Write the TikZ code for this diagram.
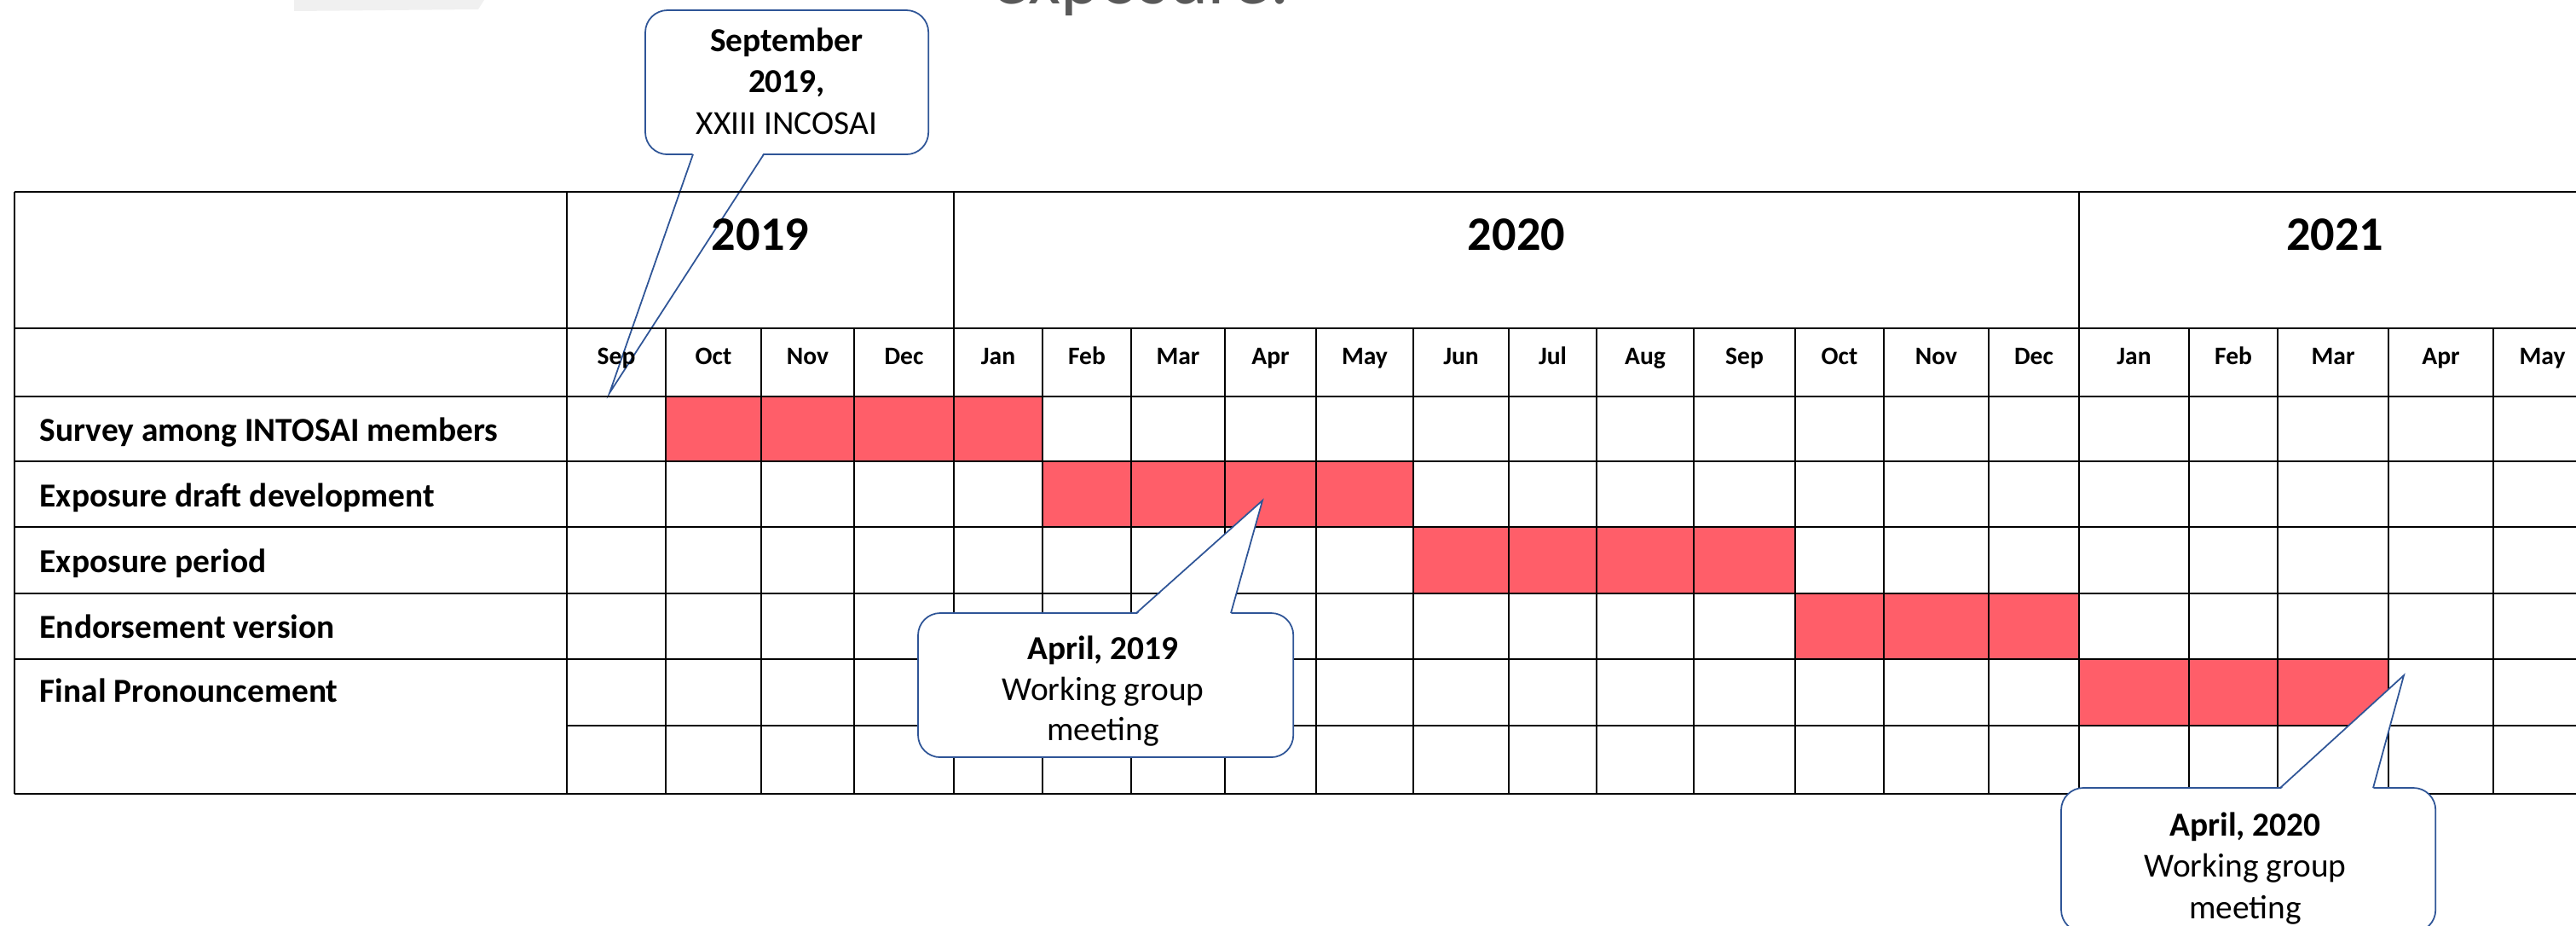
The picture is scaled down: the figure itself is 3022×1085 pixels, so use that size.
\documentclass[tikz,border=0pt]{standalone}
\usepackage{fontspec}
\setmainfont{Carlito}
\definecolor{barred}{RGB}{255,94,105}
\definecolor{callblue}{RGB}{47,85,151}
\definecolor{titlegray}{RGB}{89,89,89}
\begin{document}
\begin{tikzpicture}[x=0.01cm,y=-0.01cm,
  hline/.style={line width=0.74pt},
  vline/.style={line width=0.62pt},
  rowlabel/.style={anchor=base west, inner sep=0, font=\fontsize{11.2}{13}\selectfont\bfseries},
  monthlabel/.style={anchor=base, inner sep=0, font=\fontsize{8.4}{10}\selectfont\bfseries},
  yearlabel/.style={anchor=base, inner sep=0, font=\fontsize{16}{19}\selectfont\bfseries},
  callbox/.style={draw=callblue, line width=0.5pt, fill=white, rounded corners=7.4pt, inner sep=0, outer sep=0, anchor=north west},
  callline/.style={draw=callblue, line width=0.5pt},
  callbold/.style={anchor=base, inner sep=0, font=\fontsize{11.2}{13}\selectfont\bfseries},
  calltext/.style={anchor=base, inner sep=0, font=\fontsize{11.2}{13}\selectfont},
]
\useasboundingbox (0,0) rectangle (3022,1085);
\clip (0,0) rectangle (3022,1085);

% partial title and faint shape at the top
\fill[black!6] (345,0) -- (568,0) -- (561,11) -- (345,13) -- cycle;
\node[anchor=base west, inner sep=0, text=titlegray, font=\fontsize{25}{30}\selectfont] (title) at (1163,5) {exposure.};

% callout 1 (behind the table)
\node[callbox, minimum width=3.32cm, minimum height=1.69cm] (c1) at (757,12) {};
\coordinate (c1tip) at (715,461);
\coordinate (c1a) at (813,181);
\coordinate (c1b) at (896,181);
\fill[white] (813,179) -- (c1tip) -- (896,179) -- cycle;
\draw[callline] (c1a) -- (c1tip) -- (c1b);
\node[callbold] (c1l1) at (923,61) {September};
\node[callbold] (c1l2) at (923,109) {2019,};
\node[calltext] (c1l3) at (923,157) {XXIII INCOSAI};

% red bars
\fill[barred] (781,465) rectangle (1223,541);
\fill[barred] (1223,541) rectangle (1658,618);
\fill[barred] (1658,618) rectangle (2106,696);
\fill[barred] (2106,696) rectangle (2439,773);
\fill[barred] (2439,773) rectangle (2802,851);

% horizontal lines
\foreach \yy in {225,385,465,541,618,696,773,931}
  \draw[hline] (17,\yy) -- (3040,\yy);
\draw[hline] (665,851) -- (3040,851);

% vertical lines
\foreach \xx in {17,665,1119,2439,3040}
  \draw[vline] (\xx,225) -- (\xx,931);
\foreach \xx in {781,893,1002,1223,1327,1437,1544,1658,1770,1873,1987,2106,2210,2333,2568,2672,2802,2925}
  \draw[vline] (\xx,385) -- (\xx,931);

% years
\node[yearlabel] (y2019) at (892,293) {2019};
\node[yearlabel] (y2020) at (1779,293) {2020};
\node[yearlabel] (y2021) at (2739,293) {2021};

% months
\foreach \a/\b/\m in {665/781/Sep,781/893/Oct,893/1002/Nov,1002/1119/Dec,1119/1223/Jan,1223/1327/Feb,1327/1437/Mar,1437/1544/Apr,1544/1658/May,1658/1770/Jun,1770/1873/Jul,1873/1987/Aug,1987/2106/Sep,2106/2210/Oct,2210/2333/Nov,2333/2439/Dec,2439/2568/Jan,2568/2672/Feb,2672/2802/Mar,2802/2925/Apr,2925/3040/May}
  \node[monthlabel] (m-\a) at ({(\a+\b)/2},427) {\m};

% row labels
\node[rowlabel] (r1) at (46,517) {Survey among INTOSAI members};
\node[rowlabel] (r2) at (46,594) {Exposure draft development};
\node[rowlabel] (r3) at (46,671) {Exposure period};
\node[rowlabel] (r4) at (46,748) {Endorsement version};
\node[rowlabel] (r5) at (46,823) {Final Pronouncement};

% callout 2
\node[callbox, minimum width=4.40cm, minimum height=1.69cm] (c2) at (1077,719) {};
\coordinate (c2tip) at (1481,587);
\coordinate (c2a) at (1333,719);
\coordinate (c2b) at (1444,719);
\fill[white] (1333,721) -- (c2tip) -- (1444,721) -- cycle;
\draw[callline] (c2a) -- (c2tip) -- (c2b);
\node[callbold] (c2l1) at (1294,773) {April, 2019};
\node[calltext] (c2l2) at (1294,821) {Working group};
\node[calltext] (c2l3) at (1294,868) {meeting};

% callout 3
\node[callbox, minimum width=4.39cm, minimum height=1.69cm] (c3) at (2418,924) {};
\coordinate (c3tip) at (2820,792);
\coordinate (c3a) at (2675,924);
\coordinate (c3b) at (2784,924);
\fill[white] (2675,926) -- (c3tip) -- (2784,926) -- cycle;
\draw[callline] (c3a) -- (c3tip) -- (c3b);
\node[callbold] (c3l1) at (2634,980) {April, 2020};
\node[calltext] (c3l2) at (2634,1028) {Working group};
\node[calltext] (c3l3) at (2634,1077) {meeting};
\end{tikzpicture}
\end{document}
